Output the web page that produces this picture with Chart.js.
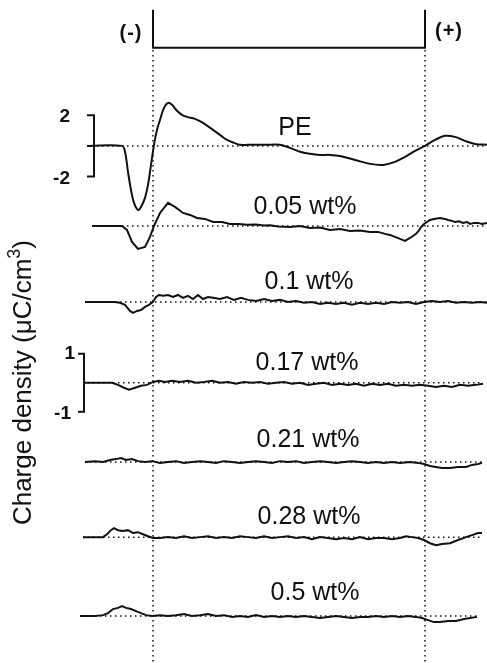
<!DOCTYPE html>
<html>
<head>
<meta charset="utf-8">
<script src="https://cdn.jsdelivr.net/npm/chart.js@4.4.1/dist/chart.umd.min.js"></script>
<style>
  html, body { margin: 0; padding: 0; background: #fff; }
  #wrap { width: 487px; height: 663px; }
</style>
</head>
<body>
<div id="wrap"><canvas id="c" width="487" height="663"></canvas></div>
<script>
// ── Data: position (μm from cathode, anode at 272) and charge density (μC/cm³) ──
const traceLabels = ['PE', '0.05 wt%', '0.1 wt%', '0.17 wt%', '0.21 wt%', '0.28 wt%', '0.5 wt%'];
const electrodeLabels = ['(-)', '(+)'];
const scaleTicksBig = ['2', '-2'];
const scaleTicksSmall = ['1', '-1'];

const pePos = [-66,-31,-28,-25,-22,-19,-15,-12,-8,-5,-2,1,4,7,11,15,19,24,29,34,42,50,60,67,74,81,87,95,112,127,137,147,157,167,177,187,202,217,230,242,252,262,272,282,292,302,312,322,334];
const peVal = [0,0,-0.39,-1.70,-2.89,-3.74,-4.20,-4.00,-3.41,-2.56,-1.25,0.07,1.05,1.70,2.49,2.82,2.69,2.30,2.03,1.90,1.77,1.51,1.05,0.72,0.39,0.20,0.07,0.07,0.07,0.07,-0.13,-0.39,-0.52,-0.59,-0.59,-0.66,-0.92,-1.18,-1.25,-1.05,-0.72,-0.33,0,0.39,0.66,0.59,0.33,0.13,0.07];

const w005Pos = [-61,-31,-26,-21,-15,-8,-3,1,7,15,22,30,37,44,52,60,69,77,86,94,103,111,117,125,137,147,157,167,177,187,197,207,217,225,232,237,242,247,252,257,260,263,266,268,271,274,277,281,287,292,295,299,302,306,310,314,317,321,325,329,334];
const w005Val = [0,0,-0.26,-1.05,-1.51,-1.38,-0.72,0,0.85,1.51,1.25,0.85,0.72,0.52,0.46,0.26,0.26,0.13,0.13,0.07,0.10,0.03,0.05,-0.03,-0.07,0,-0.13,-0.10,-0.26,-0.20,-0.33,-0.30,-0.39,-0.39,-0.52,-0.59,-0.72,-0.85,-0.98,-0.79,-0.66,-0.52,-0.30,-0.07,0.13,0.26,0.39,0.46,0.52,0.46,0.39,0.33,0.26,0.30,0.20,0.26,0.13,0.20,0.20,0.13,0.20];

const w01Pos = [-68,-53,-38,-33,-28,-23,-20,-16,-12,-8,-4,0,3,6,10,15,20,25,30,35,40,45,50,55,60,67,74,81,88,95,103,111,119,127,135,143,151,159,167,175,183,191,199,207,215,223,231,239,247,255,263,271,279,287,295,303,311,319,327,334];
const w01Val = [0,0,0,-0.03,-0.10,-0.31,-0.38,-0.31,-0.28,-0.17,-0.10,0,0.17,0.24,0.21,0.24,0.17,0.24,0.14,0.21,0.10,0.24,0.10,0.17,0.14,0.10,0.17,0.07,0.14,0.07,0.03,0.10,0.03,0.07,0,0.03,-0.03,0,-0.07,-0.03,-0.07,-0.03,-0.10,-0.03,-0.07,-0.03,-0.07,0,-0.03,0,-0.07,0,0.03,0,0.03,-0.03,0,-0.03,0,-0.03];

const w017Pos = [-70,-53,-41,-35,-29,-24,-18,-12,-6,0,6,12,19,27,35,43,51,59,67,75,83,91,99,107,115,123,131,139,147,155,163,171,179,187,195,203,211,219,227,235,243,251,259,267,275,283,291,299,307,315,323,330];
const w017Val = [0,0,0,-0.07,-0.17,-0.24,-0.17,-0.10,-0.07,0.03,0.07,0.03,0.07,0.03,0.07,0,0.03,0.07,0,0.03,-0.03,0.03,0,0.03,-0.03,0,0.03,-0.03,0,-0.07,-0.03,0,-0.07,-0.03,-0.07,-0.03,-0.10,-0.03,-0.07,-0.03,-0.10,-0.07,-0.10,-0.07,-0.10,-0.14,-0.10,-0.14,-0.07,-0.10,-0.07,-0.03];

const w021Pos = [-68,-58,-50,-43,-37,-32,-27,-21,-15,-8,-1,7,15,23,31,39,47,55,63,71,79,87,95,103,111,119,127,135,143,151,159,167,175,183,191,199,207,215,223,231,239,247,257,265,271,277,283,289,297,305,313,319,325,329];
const w021Val = [0,0.03,0,0.07,0.10,0.14,0.07,0.10,0.03,0,0.03,-0.03,0,0.03,-0.03,0,0.03,0,-0.03,0.03,0,-0.03,0,0.03,0,-0.03,0.03,0,0.03,-0.03,0,0.03,0,-0.03,0,0.03,0,-0.03,0,-0.03,0,-0.03,0,-0.03,-0.07,-0.14,-0.17,-0.21,-0.21,-0.17,-0.17,-0.10,-0.07,-0.03];

const w028Pos = [-70,-58,-50,-46,-42,-39,-35,-30,-25,-20,-15,-10,-5,0,7,15,23,31,39,47,55,63,71,79,87,95,103,111,119,127,135,143,151,159,167,175,183,191,199,207,215,223,231,239,247,253,259,265,271,277,283,289,297,305,313,319,325,329];
const w028Val = [0,0,0,0.10,0.24,0.31,0.24,0.21,0.24,0.14,0.17,0.10,0.03,-0.03,-0.03,0,-0.03,0.03,-0.03,0,0.03,-0.03,0,-0.03,0.03,0,-0.03,0.03,-0.03,0,0.03,-0.03,0,-0.07,0,-0.03,-0.07,-0.03,-0.07,0,-0.07,-0.03,-0.03,-0.07,-0.03,0.03,0,-0.03,-0.10,-0.21,-0.28,-0.24,-0.21,-0.10,0,0.07,0.14,0.14];

const w05Pos = [-73,-58,-50,-45,-40,-35,-31,-27,-22,-17,-12,-7,-1,7,15,23,31,39,47,55,63,71,79,87,95,103,111,119,127,135,143,151,159,167,175,183,191,199,207,215,223,231,239,247,255,263,269,275,281,287,295,303,311,317,324];
const w05Val = [0,0,0.03,0.10,0.24,0.28,0.34,0.28,0.24,0.17,0.10,0.03,0,0.03,0,0.03,0.07,0,0.03,0.07,0,0.03,-0.03,0,-0.03,0.03,-0.03,0,-0.03,0,-0.03,0,-0.03,-0.07,-0.03,0,-0.03,-0.07,-0.03,-0.03,0,-0.03,0,-0.03,0,-0.03,-0.07,-0.14,-0.21,-0.21,-0.17,-0.17,-0.10,-0.07,-0.03];

// ── Layout (plot units: 1 unit = 1 μC/cm³ on the lower scale bar) ──
const X_MIN = -153, X_MAX = 334, Y_MAX = 22.86;
const ANODE = 272;
const offsets = [17.83, 15.07, 12.45, 9.66, 6.93, 4.34, 1.62];
const gains   = [0.526, 0.526, 1, 1, 1, 1, 1];
const labelX  = [142, 152, 156, 154, 155, 156, 162];
const labelRise = [0.62, 0.66, 0.69, 0.69, 0.76, 0.69, 0.79];
const FONT = '"Liberation Sans", Arial, sans-serif';
const INK = '#111';

const traces = [
  [pePos, peVal], [w005Pos, w005Val], [w01Pos, w01Val], [w017Pos, w017Val],
  [w021Pos, w021Val], [w028Pos, w028Val], [w05Pos, w05Val]
];

const datasets = [];
const line = (pts, extra) => Object.assign({
  data: pts, borderColor: INK, borderWidth: 2, pointRadius: 0, fill: false, tension: 0
}, extra || {});
const dotted = { borderWidth: 1.5, borderDash: [1.5, 3.5] };

traces.forEach(([pos, val], i) => {
  const pts = pos.map((p, k) => ({ x: p, y: offsets[i] + val[k] * gains[i] }));
  datasets.push(line(pts, { tension: i === 0 ? 0.35 : 0 }));
  datasets.push(line([{ x: pos[0], y: offsets[i] }, { x: pos[pos.length - 1], y: offsets[i] }], dotted));
});

// electrode positions (dotted verticals)
datasets.push(line([{ x: 0, y: 21.14 }, { x: 0, y: 0 }], dotted));
datasets.push(line([{ x: ANODE, y: 21.14 }, { x: ANODE, y: 0 }], dotted));
// sample bracket on top
datasets.push(line([{ x: 0, y: 22.52 }, { x: 0, y: 21.21 }, { x: ANODE, y: 21.21 }, { x: ANODE, y: 22.52 }]));
// scale bars
const sbA = { x: -59, tick: -66, i: 0, v: 2 };
const sbB = { x: -69, tick: -75, i: 3, v: 1 };
[sbA, sbB].forEach(s => {
  const top = offsets[s.i] + s.v * gains[s.i], bot = offsets[s.i] - s.v * gains[s.i];
  datasets.push(line([{ x: s.tick, y: top }, { x: s.x, y: top }, { x: s.x, y: bot }, { x: s.tick, y: bot }]));
});

// ── Text plugin ──
const textPlugin = {
  id: 'texts',
  afterDatasetsDraw(chart) {
    const ctx = chart.ctx, xs = chart.scales.x, ys = chart.scales.y;
    const X = v => xs.getPixelForValue(v), Y = v => ys.getPixelForValue(v);
    ctx.save();
    ctx.fillStyle = INK;
    ctx.textBaseline = 'middle';

    ctx.font = '25px ' + FONT;
    ctx.textAlign = 'center';
    traceLabels.forEach((t, i) => ctx.fillText(t, X(labelX[i]), Y(offsets[i] + labelRise[i])));

    ctx.font = 'bold 20px ' + FONT;
    ctx.letterSpacing = '1px';
    ctx.fillText(electrodeLabels[0], X(-22), Y(21.72));
    ctx.fillText(electrodeLabels[1], X(296), Y(21.79));
    ctx.letterSpacing = '0px';

    ctx.font = 'bold 19px ' + FONT;
    ctx.textAlign = 'right';
    ctx.fillText(scaleTicksBig[0], X(-83), Y(offsets[0] + 2 * gains[0]) + 1);
    ctx.fillText(scaleTicksBig[1], X(-83), Y(offsets[0] - 2 * gains[0]) + 2);
    ctx.fillText(scaleTicksSmall[0], X(-78), Y(offsets[3] + 1));
    ctx.fillText(scaleTicksSmall[1], X(-82), Y(offsets[3] - 1) + 2);

    // rotated axis title with superscript
    const a = 'Charge density (\u03bcC/cm', b = '3', c = ')';
    const main = '26px ' + FONT, sup = '18px ' + FONT;
    ctx.font = main; const wa = ctx.measureText(a).width, wc = ctx.measureText(c).width;
    ctx.font = sup;  const wb = ctx.measureText(b).width;
    ctx.translate(X(-129), Y(9.67));
    ctx.rotate(-Math.PI / 2);
    ctx.textAlign = 'left';
    let x0 = -(wa + wb + wc) / 2;
    ctx.font = main; ctx.fillText(a, x0, 0);
    ctx.font = sup;  ctx.fillText(b, x0 + wa, -9);
    ctx.font = main; ctx.fillText(c, x0 + wa + wb, 0);
    ctx.restore();
  }
};

new Chart(document.getElementById('c'), {
  type: 'line',
  data: { datasets },
  options: {
    responsive: false,
    animation: false,
    events: [],
    layout: { padding: 0 },
    plugins: { legend: { display: false }, tooltip: { enabled: false } },
    scales: {
      x: { type: 'linear', min: X_MIN, max: X_MAX, display: false },
      y: { type: 'linear', min: 0, max: Y_MAX, display: false }
    }
  },
  plugins: [textPlugin]
});
</script>
</body>
</html>
